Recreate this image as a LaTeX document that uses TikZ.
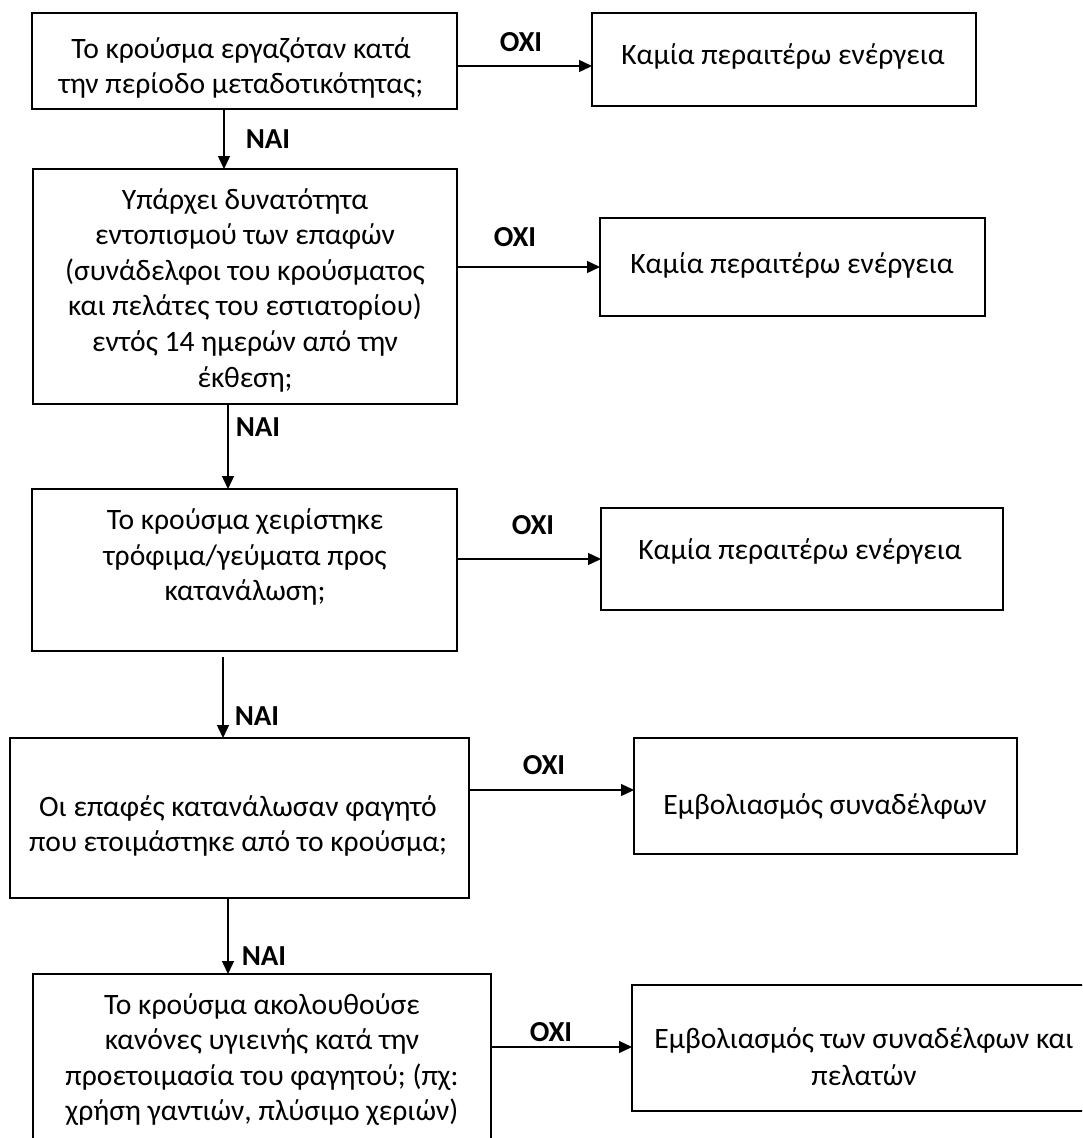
\documentclass[tikz,border=0pt]{standalone}
\usepackage{fontspec}
\setmainfont{Carlito}
\usetikzlibrary{arrows.meta}
\tikzset{
  box/.style={draw, line width=1.6pt, rectangle, inner sep=0pt, outer sep=0pt},
  arr/.style={-{Triangle[length=13pt,width=12pt]}, line width=1.4pt},
  lbl/.style={font=\bfseries\fontsize{29pt}{35pt}\selectfont, inner sep=0pt},
  txt/.style={align=center, inner sep=0pt, font=\fontsize{29.6pt}{35.6pt}\selectfont},
}
\begin{document}
\begin{tikzpicture}[x=1pt,y=-1pt]
\useasboundingbox (0,0) rectangle (1082,1138);
\fill[white] (0,0) rectangle (1082,1138);
\clip (0,0) rectangle (1082,1138);
% boxes
\node[box, minimum width=425pt, minimum height=96pt]  (b1) at (244.5,61) {};
\node[box, minimum width=384pt, minimum height=93pt]  (r1) at (784,59.5) {};
\node[box, minimum width=424pt, minimum height=235pt] (b2) at (245,286.5) {};
\node[box, minimum width=385pt, minimum height=98pt]  (r2) at (792.5,267) {};
\node[box, minimum width=425pt, minimum height=162pt] (b3) at (244.5,570) {};
\node[box, minimum width=402pt, minimum height=102pt] (r3) at (802,559) {};
\node[box, minimum width=459pt, minimum height=160pt] (b4) at (239.5,818) {};
\node[box, minimum width=383pt, minimum height=116pt] (r4) at (825.5,796) {};
\node[box, minimum width=458pt, minimum height=176pt] (b5) at (262,1062) {};
\node[box, minimum width=462pt, minimum height=126pt] (r5) at (863,1048) {};
% texts
\node[txt] (t1) at (241,68) {Το κρούσμα εργαζόταν κατά\\την περίοδο μεταδοτικότητας;};
\node[txt] (u1) at (783,56) {Καμία περαιτέρω ενέργεια};
\node[txt] (t2) at (245,290) {Υπάρχει δυνατότητα\\εντοπισμού των επαφών\\(συνάδελφοι του κρούσματος\\και πελάτες του εστιατορίου)\\εντός 14 ημερών από την\\έκθεση;};
\node[txt] (u2) at (792,265) {Καμία περαιτέρω ενέργεια};
\node[txt] (t3) at (245,557) {Το κρούσμα χειρίστηκε\\τρόφιμα/γεύματα προς\\κατανάλωση;};
\node[txt] (u3) at (800,551) {Καμία περαιτέρω ενέργεια};
\node[txt] (t4) at (238,826) {Οι επαφές κατανάλωσαν φαγητό\\που ετοιμάστηκε από το κρούσμα;};
\node[txt] (u4) at (825,807) {Εμβολιασμός συναδέλφων};
\node[txt] (t5) at (262,1059.5) {Το κρούσμα ακολουθούσε\\κανόνες υγιεινής κατά την\\προετοιμασία του φαγητού; (πχ:\\χρήση γαντιών, πλύσιμο χεριών)};
\node[txt, font=\fontsize{29.6pt}{37pt}\selectfont] (u5) at (864,1057) {Εμβολιασμός των συναδέλφων και\\πελατών};
% connector reference coordinates
\coordinate (h1) at (0,66);
\coordinate (h2) at (0,267);
\coordinate (h3) at (0,559);
\coordinate (h4) at (0,790);
\coordinate (h5) at (0,1047);
\coordinate (v1) at (224,0);
\coordinate (v2) at (228,0);
\coordinate (v3s) at (223,657);
\coordinate (v4) at (228,0);
% horizontal connectors
\draw[arr] (b1.east |- h1) -- (r1.west |- h1);
\draw[arr] (b2.east |- h2) -- (r2.west |- h2);
\draw[arr] (b3.east |- h3) -- (r3.west |- h3);
\draw[arr] (b4.east |- h4) -- (r4.west |- h4);
\draw[arr] (b5.east |- h5) -- (r5.west |- h5);
% vertical connectors
\draw[arr] (b1.south -| v1) -- (b2.north -| v1);
\draw[arr] (b2.south -| v2) -- (b3.north -| v2);
\draw[arr] (v3s) -- (b4.north -| v3s);
\draw[arr] (b4.south -| v4) -- (b5.north -| v4);
% labels
\node[lbl] (o1) at (521,42) {ΟΧΙ};
\node[lbl] (o2) at (515,237) {ΟΧΙ};
\node[lbl] (o3) at (533,525.5) {ΟΧΙ};
\node[lbl] (o4) at (544,765) {ΟΧΙ};
\node[lbl] (o5) at (551,1032) {ΟΧΙ};
\node[lbl] (n1) at (268,139.5) {ΝΑΙ};
\node[lbl] (n2) at (258,427.5) {ΝΑΙ};
\node[lbl] (n3) at (257,716) {ΝΑΙ};
\node[lbl] (n4) at (264,956.5) {ΝΑΙ};
\end{tikzpicture}
\end{document}
